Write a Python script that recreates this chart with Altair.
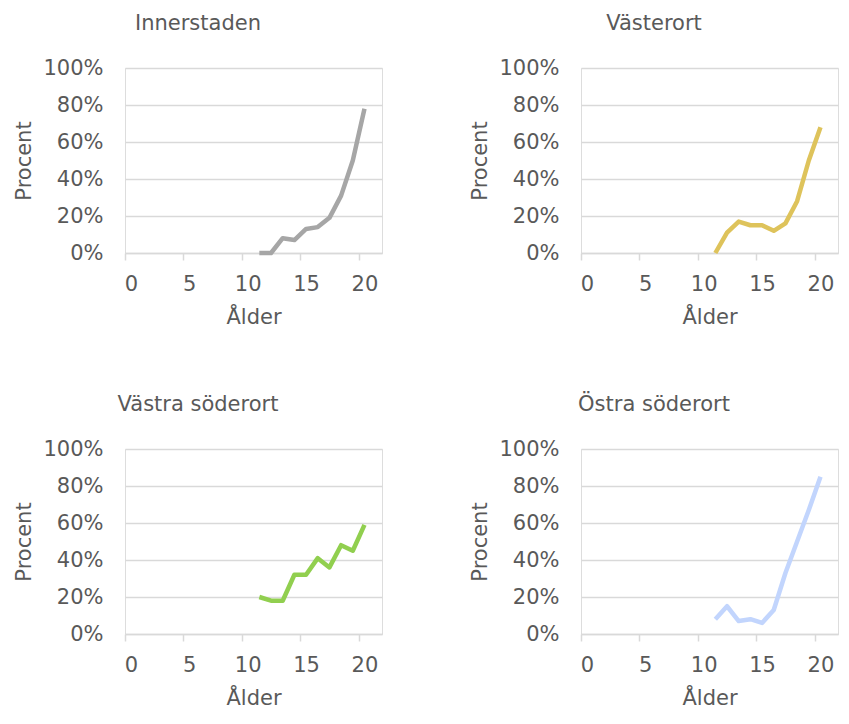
import altair as alt
import pandas as pd

# Data
ages = [11, 12, 13, 14, 15, 16, 17, 18, 19, 20]
regions = ["Innerstaden", "Västerort", "Västra söderort", "Östra söderort"]
innerstaden = [0, 0, 8, 7, 13, 14, 19, 31, 50, 78]
vasterort = [0, 11, 17, 15, 15, 12, 16, 28, 50, 68]
vastra_soderort = [20, 18, 18, 32, 32, 41, 36, 48, 45, 59]
ostra_soderort = [8, 15, 7, 8, 6, 13, 33, 50, 67, 85]
colors = ["#A6A6A6", "#DEC35B", "#91CF4F", "#C2D5FD"]
x_ticks = [0, 5, 10, 15, 20]
y_ticks = [0, 0.2, 0.4, 0.6, 0.8, 1.0]

series = [innerstaden, vasterort, vastra_soderort, ostra_soderort]
rows = []
for reg, vals in zip(regions, series):
    for a, v in zip(ages, vals):
        rows.append({"region": reg, "age": a, "pct": v / 100})
df = pd.DataFrame(rows)

FONT = "DejaVu Sans"
TXT = "#595959"
GRID = "#D9D9D9"
W = 257


def panel(reg, color):
    return (
        alt.Chart(df)
        .transform_filter(alt.datum.region == reg)
        .mark_line(color=color, strokeWidth=4.5, strokeJoin="round")
        .encode(
            x=alt.X(
                "age:Q",
                scale=alt.Scale(domain=[-0.5, 21.5], nice=False, zero=False),
                axis=alt.Axis(
                    title="Ålder",
                    values=x_ticks,
                    format="d",
                    grid=False,
                    domainColor=GRID,
                    domainWidth=1.5,
                    tickColor=GRID,
                    tickWidth=1.5,
                    tickSize=7,
                    tickOffset=-W / 44,
                    labelOffset=W / 44,
                    labelPadding=13,
                    labelFontSize=21,
                    labelColor=TXT,
                    labelFont=FONT,
                    titleFontSize=21,
                    titleFont=FONT,
                    titleColor=TXT,
                    titleFontWeight="normal",
                    titlePadding=12,
                ),
            ),
            y=alt.Y(
                "pct:Q",
                scale=alt.Scale(domain=[0, 1], nice=False),
                axis=alt.Axis(
                    title="Procent",
                    values=y_ticks,
                    format=".0%",
                    grid=True,
                    gridColor=GRID,
                    gridWidth=1.5,
                    domain=False,
                    ticks=False,
                    tickSize=0,
                    labelPadding=22,
                    labelFontSize=21,
                    labelColor=TXT,
                    labelFont=FONT,
                    titleFontSize=21,
                    titleFont=FONT,
                    titleColor=TXT,
                    titleFontWeight="normal",
                    titlePadding=8,
                ),
            ),
        )
        .properties(
            width=W,
            height=185,
            title=alt.TitleParams(
                reg,
                anchor="middle",
                frame="bounds",
                fontSize=21,
                font=FONT,
                color=TXT,
                fontWeight="normal",
                offset=23,
            ),
        )
    )


p = [panel(r, c) for r, c in zip(regions, colors)]
row1 = alt.hconcat(p[0], p[1], spacing=86)
row2 = alt.hconcat(p[2], p[3], spacing=86)
chart = (
    alt.vconcat(row1, row2, spacing=65)
    .properties(padding={"left": 5, "top": 4, "right": 0, "bottom": 0})
    .configure_view(strokeWidth=0)
    .configure(background="white")
)
chart.save("out.html", embed_options={"renderer": "svg", "actions": False})
